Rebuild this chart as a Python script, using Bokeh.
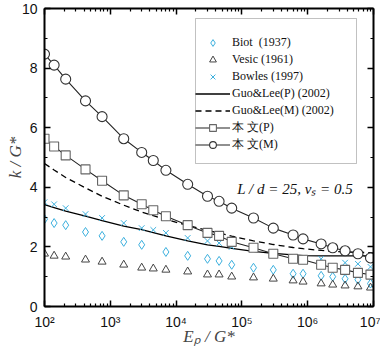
import numpy as np
from bokeh.plotting import figure
from bokeh.models import (LogAxis, LinearAxis, FixedTicker, SingleIntervalTicker,
                          Legend, LegendItem, Label, CustomJSTickFormatter, BoxAnnotation)
from bokeh.embed import file_html
from bokeh.resources import INLINE

# ---------------- data ----------------
ep_pts = [100, 140, 210, 420, 750, 1600, 3000, 4500, 7000, 15000, 30000, 45000,
          70000, 150000, 300000, 600000, 850000, 1.6e6, 2.4e6, 3.7e6, 5.8e6, 9e6]

# 本文(M)
m_k = [8.47, 8.10, 7.63, 6.90, 6.37, 5.63, 5.17, 4.90, 4.57, 4.10, 3.70, 3.53,
       3.30, 2.97, 2.63, 2.40, 2.27, 2.10, 1.97, 1.87, 1.77, 1.63]
# 本文(P)
p_k = [5.63, 5.37, 5.07, 4.60, 4.22, 3.73, 3.43, 3.23, 3.03, 2.73, 2.47, 2.37,
       2.17, 1.97, 1.77, 1.60, 1.57, 1.40, 1.30, 1.23, 1.13, 1.07]
# Vesic (1961)
vesic_k = [1.77, 1.70, 1.67, 1.57, 1.50, 1.40, 1.30, 1.27, 1.23, 1.17, 1.07, 1.07,
           1.00, 0.97, 0.93, 0.87, 0.83, 0.77, 0.73, 0.70, 0.67, 0.63]
# Biot (1937)
biot_x = [100, 140, 210, 420, 750, 1600, 3000, 7000, 15000, 30000, 45000,
          70000, 150000, 300000, 600000, 850000, 1.6e6, 2.4e6, 3.7e6, 5.8e6, 9e6]
biot_k = [2.93, 2.80, 2.73, 2.50, 2.37, 2.17, 2.07, 1.83, 1.70, 1.60, 1.53,
          1.40, 1.30, 1.23, 1.10, 1.10, 1.03, 1.00, 0.93, 0.90, 0.77]
# Bowles (1997)
bowles_x = [100, 140, 210, 420, 750, 1600, 3000, 4500, 7000, 15000, 30000, 45000,
            70000, 1.6e6, 3.7e6, 5.8e6, 9e6]
bowles_k = [3.50, 3.43, 3.30, 3.10, 2.97, 2.80, 2.63, 2.57, 2.47, 2.30, 2.20, 2.13,
            2.00, 1.60, 1.47, 1.43, 1.33]
# Guo & Lee (2002) curves
guo_x = [100, 140, 210, 420, 750, 1600, 3000, 4500, 7000, 15000, 30000, 45000,
         70000, 150000, 300000, 600000, 850000, 1.6e6, 2.4e6, 3.7e6, 5.8e6, 1e7]
guo_p = [3.42, 3.32, 3.20, 3.03, 2.88, 2.70, 2.58, 2.48, 2.37, 2.20, 2.07, 2.02,
         1.95, 1.85, 1.78, 1.73, 1.71, 1.70, 1.70, 1.70, 1.70, 1.70]
guo_m = [4.80, 4.58, 4.33, 3.98, 3.70, 3.40, 3.17, 3.05, 2.92, 2.72, 2.55, 2.47,
         2.36, 2.20, 2.08, 1.98, 1.94, 1.88, 1.85, 1.83, 1.82, 1.80]

x_major = [1e2, 1e3, 1e4, 1e5, 1e6, 1e7]
y_range = (0, 10)

# ---------------- figure ----------------
BLUE = "#3cb0de"
TICK_FONT = "Liberation Sans"
SERIF = "Liberation Serif"

p = figure(width=380, height=348, x_axis_type="log", x_range=(1e2, 1e7), y_range=y_range,
           output_backend="svg", toolbar_location=None,
           min_border_left=44, min_border_right=7, min_border_top=8, min_border_bottom=42)
p.grid.visible = False
p.outline_line_color = None
p.background_fill_color = "white"
p.border_fill_color = "white"

minor_x = [m * 10 ** e for e in range(2, 7) for m in range(2, 10)]
xticker = FixedTicker(ticks=x_major, minor_ticks=minor_x)
yticker = SingleIntervalTicker(interval=2, num_minor_ticks=2)

sup_fmt = CustomJSTickFormatter(code="""
const sup = {2:'\u00b2',3:'\u00b3',4:'\u2074',5:'\u2075',6:'\u2076',7:'\u2077'};
const e = Math.round(Math.log10(tick));
return '10' + sup[e];
""")
blank_fmt = CustomJSTickFormatter(code="return '';")


def style_axis(ax):
    ax.axis_line_width = 2
    ax.axis_line_color = "black"
    ax.major_tick_in = 6
    ax.major_tick_out = 0
    ax.minor_tick_in = 3
    ax.minor_tick_out = 0
    ax.major_tick_line_width = 1.5
    ax.minor_tick_line_width = 1.2
    ax.major_tick_line_color = "black"
    ax.minor_tick_line_color = "black"
    ax.major_label_text_font = TICK_FONT
    ax.major_label_text_font_size = "14px"
    ax.major_label_text_color = "#111111"


xa = p.xaxis[0]
xa.ticker = xticker
xa.formatter = sup_fmt
style_axis(xa)
xa.major_label_standoff = 7
xa.axis_label = "E\u209a / G*"
xa.axis_label_text_font = SERIF
xa.axis_label_text_font_style = "italic"
xa.axis_label_text_font_size = "17px"
xa.axis_label_standoff = -6

ya = p.yaxis[0]
ya.ticker = yticker
style_axis(ya)
ya.major_label_standoff = 7
ya.axis_label = "k / G*"
ya.axis_label_text_font = SERIF
ya.axis_label_text_font_style = "italic"
ya.axis_label_text_font_size = "17px"
ya.axis_label_standoff = -6

top = LogAxis(ticker=xticker, formatter=blank_fmt)
style_axis(top)
top.major_label_standoff = 0
p.add_layout(top, "above")

right = LinearAxis(ticker=yticker, formatter=blank_fmt)
style_axis(right)
right.major_label_standoff = 0
p.add_layout(right, "right")

# ---------------- glyphs ----------------
r_gp = p.line(guo_x, guo_p, line_color="black", line_width=1.3)
r_gm = p.line(guo_x, guo_m, line_color="black", line_width=1.3, line_dash="6 4")
r_pl = p.line(ep_pts, p_k, line_color="#222222", line_width=1.1)
r_ml = p.line(ep_pts, m_k, line_color="#222222", line_width=1.1)

r_biot = p.scatter(biot_x, biot_k, marker="diamond", size=9,
                   fill_color=None, line_color=BLUE, line_width=1)
r_vesic = p.scatter(ep_pts, vesic_k, marker="triangle", size=8,
                    fill_color=None, line_color="#444444", line_width=1)
r_bowles = p.scatter(bowles_x, bowles_k, marker="x", size=8,
                     line_color=BLUE, line_width=1)
r_ps = p.scatter(ep_pts, p_k, marker="square", size=9, fill_color="white",
                 line_color="#666666", line_width=1.1)
r_ms = p.scatter(ep_pts, m_k, marker="circle", size=10, fill_color="white",
                 line_color="#333333", line_width=1.1)

legend = Legend(items=[
    LegendItem(label="Biot  (1937)", renderers=[r_biot]),
    LegendItem(label="Vesic (1961)", renderers=[r_vesic]),
    LegendItem(label="Bowles (1997)", renderers=[r_bowles]),
    LegendItem(label="Guo&Lee(P) (2002)", renderers=[r_gp]),
    LegendItem(label="Guo&Lee(M) (2002)", renderers=[r_gm]),
    LegendItem(label="本 文(P)", renderers=[r_pl, r_ps]),
    LegendItem(label="本 文(M)", renderers=[r_ml, r_ms]),
], location=(151, 153))
legend.label_text_font = SERIF
legend.label_text_font_size = "12px"
legend.label_text_color = "#111111"
legend.glyph_width = 35
legend.glyph_height = 17
legend.label_height = 17
legend.label_standoff = 2
legend.spacing = 0
legend.padding = 0
legend.margin = 0
legend.border_line_color = None
legend.background_fill_alpha = 0
p.add_layout(legend, "center")

# legend frame
p.add_layout(BoxAnnotation(left=195, right=356, top=18, bottom=163,
                           left_units="canvas", right_units="canvas",
                           top_units="canvas", bottom_units="canvas",
                           fill_alpha=0, line_color="#333333", line_width=1,
                           level="overlay"))

p.add_layout(Label(x=10 ** 4.93, y=3.93, text="L / d = 25, \u03bd\u209b = 0.5",
                   text_font=SERIF, text_font_style="italic", text_font_size="15px",
                   text_baseline="middle", text_align="left", text_color="#111111"))

open("out.html", "w", encoding="utf-8").write(file_html(p, INLINE))
